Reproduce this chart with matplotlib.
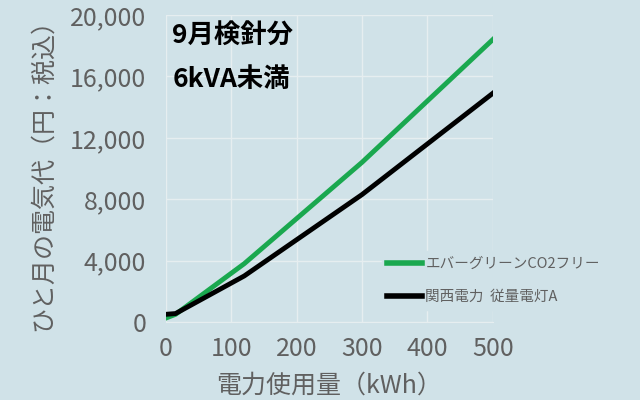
import matplotlib.pyplot as plt

plt.rcParams['font.family'] = ['Noto Sans CJK JP', 'DejaVu Sans']

kwh_green = [0, 15, 120, 300, 500]
cost_green = [250, 500, 3800, 10400, 18400]
kwh_black = [0, 15, 60, 120, 300, 500]
cost_black = [500, 550, 1600, 3000, 8300, 14900]
yticks = [0, 4000, 8000, 12000, 16000, 20000]
xticks = [0, 100, 200, 300, 400, 500]

bg = '#d0e2e8'
grey = '#606060'
fig = plt.figure(figsize=(6.4, 4.0), dpi=100, facecolor=bg)
ax = fig.add_axes([0.259, 0.195, 0.511, 0.7675], facecolor=bg)

ax.plot(kwh_green, cost_green, color='#1aa84f', lw=3.5, label='エバーグリーンCO2フリー')
ax.plot(kwh_black, cost_black, color='black', lw=3.5, label='関西電力  従量電灯A')

ax.set_xlim(0, 500)
ax.set_ylim(0, 20000)
ax.set_xticks(xticks)
ax.set_yticks(yticks)
ax.set_yticklabels([f'{v:,}' for v in yticks])
ax.grid(color='#e6eef0', lw=1)
ax.set_axisbelow(True)
for s in ax.spines.values():
    s.set_visible(False)
ax.spines['bottom'].set_visible(True)
ax.spines['bottom'].set_color('#e6eef0')
ax.tick_params(length=0, labelsize=18, labelcolor=grey)
ax.tick_params(axis='y', pad=14)
ax.tick_params(axis='x', pad=10)
ax.set_xlabel('電力使用量（kWh）', fontsize=18, color=grey, labelpad=8)
ax.set_ylabel('ひと月の電気代（円：税込）', fontsize=18, color=grey, labelpad=10)

ax.text(0.02, 0.93, '9月検針分', transform=ax.transAxes, fontsize=19, fontweight='bold', va='center')
ax.text(0.02, 0.79, '6kVA未満', transform=ax.transAxes, fontsize=19, fontweight='bold', va='center')

leg = ax.legend(loc='lower left', bbox_to_anchor=(0.66, 0.04), frameon=True, facecolor=bg,
                edgecolor=bg, framealpha=1, fontsize=10.5, handlelength=2.4,
                handletextpad=0.2, labelspacing=1.3, borderaxespad=0)
for t in leg.get_texts():
    t.set_color(grey)
for h in leg.get_lines():
    h.set_linewidth(4)

fig.savefig('out.png', dpi=100, facecolor=bg)
